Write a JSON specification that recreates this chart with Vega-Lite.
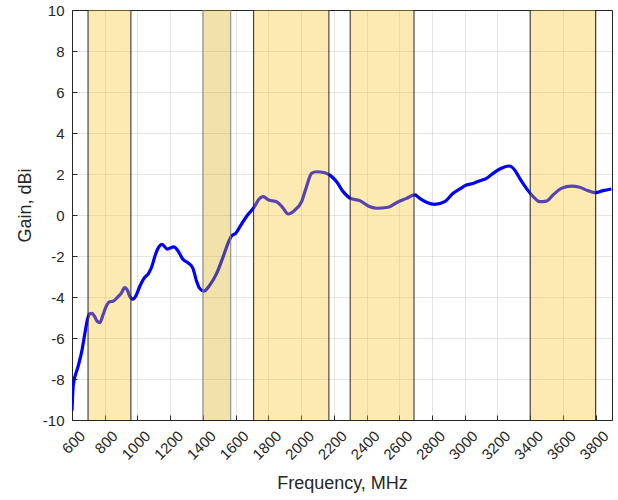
{
  "$schema": "https://vega.github.io/schema/vega-lite/v6.json",
  "width": 540,
  "height": 410,
  "autosize": "none",
  "padding": {"left": 72, "top": 10, "right": 6, "bottom": 80},
  "background": "white",
  "config": {
    "view": {"stroke": "#262626", "strokeWidth": 1},
    "font": "Liberation Sans",
    "axis": {
      "labelFont": "Liberation Sans",
      "titleFont": "Liberation Sans",
      "labelColor": "#262626",
      "titleColor": "#262626",
      "domainColor": "#262626",
      "tickColor": "#262626",
      "gridColor": "#000000",
      "gridOpacity": 0.1,
      "labelFontSize": 15,
      "titleFontSize": 18,
      "titleFontWeight": "normal",
      "labelOverlap": false,
      "labelFlush": false,
      "tickSize": -5,
      "grid": true
    },
    "axisX": {"labelOverlap": false, "labelAngle": -45, "labelAlign": "right", "labelBaseline": "middle", "labelBound": false, "labelPadding": 18, "labelOffset": 10, "titlePadding": 12},
    "axisY": {"labelPadding": 13, "titlePadding": 8, "titleY": 195}
  },
  "datasets": {
    "gain": [
      {"f": 600, "g": -9.55}, {"f": 608, "g": -8.29}, {"f": 637, "g": -7.4}, {"f": 661, "g": -6.6},
      {"f": 677, "g": -5.85}, {"f": 694, "g": -5.12}, {"f": 706, "g": -4.83}, {"f": 722, "g": -4.8},
      {"f": 739, "g": -4.96}, {"f": 755, "g": -5.2}, {"f": 771, "g": -5.25}, {"f": 789, "g": -4.88},
      {"f": 810, "g": -4.44}, {"f": 830, "g": -4.23}, {"f": 850, "g": -4.21}, {"f": 877, "g": -4.02},
      {"f": 901, "g": -3.82}, {"f": 922, "g": -3.54}, {"f": 938, "g": -3.66}, {"f": 952, "g": -3.95},
      {"f": 972, "g": -4.1}, {"f": 993, "g": -3.9}, {"f": 1013, "g": -3.5}, {"f": 1040, "g": -3.09},
      {"f": 1068, "g": -2.85}, {"f": 1089, "g": -2.49}, {"f": 1109, "g": -1.95}, {"f": 1129, "g": -1.58},
      {"f": 1150, "g": -1.43}, {"f": 1182, "g": -1.66}, {"f": 1223, "g": -1.55}, {"f": 1247, "g": -1.74},
      {"f": 1278, "g": -2.16}, {"f": 1313, "g": -2.36}, {"f": 1339, "g": -2.6}, {"f": 1359, "g": -3.17},
      {"f": 1380, "g": -3.58}, {"f": 1405, "g": -3.71}, {"f": 1443, "g": -3.41}, {"f": 1484, "g": -2.85},
      {"f": 1524, "g": -2.03}, {"f": 1555, "g": -1.35}, {"f": 1575, "g": -1.02}, {"f": 1600, "g": -0.9},
      {"f": 1632, "g": -0.49}, {"f": 1673, "g": 0.0}, {"f": 1713, "g": 0.38}, {"f": 1742, "g": 0.77},
      {"f": 1768, "g": 0.9}, {"f": 1803, "g": 0.73}, {"f": 1850, "g": 0.65}, {"f": 1884, "g": 0.4},
      {"f": 1921, "g": 0.05}, {"f": 1962, "g": 0.24}, {"f": 2003, "g": 0.65}, {"f": 2033, "g": 1.38},
      {"f": 2064, "g": 2.03}, {"f": 2094, "g": 2.11}, {"f": 2145, "g": 2.06}, {"f": 2180, "g": 1.92},
      {"f": 2216, "g": 1.63}, {"f": 2257, "g": 1.14}, {"f": 2302, "g": 0.81}, {"f": 2359, "g": 0.7},
      {"f": 2410, "g": 0.44}, {"f": 2461, "g": 0.33}, {"f": 2532, "g": 0.38}, {"f": 2583, "g": 0.6},
      {"f": 2644, "g": 0.81}, {"f": 2695, "g": 0.98}, {"f": 2725, "g": 0.81}, {"f": 2766, "g": 0.62},
      {"f": 2817, "g": 0.52}, {"f": 2878, "g": 0.65}, {"f": 2929, "g": 1.06}, {"f": 2975, "g": 1.3},
      {"f": 3010, "g": 1.46}, {"f": 3051, "g": 1.54}, {"f": 3092, "g": 1.67}, {"f": 3133, "g": 1.79},
      {"f": 3173, "g": 2.03}, {"f": 3224, "g": 2.28}, {"f": 3271, "g": 2.39}, {"f": 3305, "g": 2.2},
      {"f": 3336, "g": 1.79}, {"f": 3377, "g": 1.3}, {"f": 3418, "g": 0.9}, {"f": 3458, "g": 0.65},
      {"f": 3499, "g": 0.68}, {"f": 3540, "g": 0.98}, {"f": 3591, "g": 1.3}, {"f": 3652, "g": 1.41},
      {"f": 3702, "g": 1.35}, {"f": 3753, "g": 1.19}, {"f": 3800, "g": 1.09}, {"f": 3845, "g": 1.19},
      {"f": 3896, "g": 1.27}
    ],
    "bands": [
      {"start": 698, "end": 960, "kind": "main"},
      {"start": 1400, "end": 1570, "kind": "other"},
      {"start": 1710, "end": 2170, "kind": "main"},
      {"start": 2300, "end": 2690, "kind": "main"},
      {"start": 3400, "end": 3800, "kind": "main"}
    ]
  },
  "layer": [
    {
      "data": {"name": "gain"},
      "mark": {"type": "line", "color": "#0000ff", "strokeWidth": 3.2, "interpolate": "monotone", "clip": true},
      "encoding": {
        "x": {
          "field": "f", "type": "quantitative",
          "scale": {"domain": [600, 3900], "nice": false, "zero": false},
          "axis": {"title": "Frequency, MHz", "values": [600, 800, 1000, 1200, 1400, 1600, 1800, 2000, 2200, 2400, 2600, 2800, 3000, 3200, 3400, 3600, 3800], "format": "d", "labelOverlap": false}
        },
        "y": {
          "field": "g", "type": "quantitative",
          "scale": {"domain": [-10, 10], "nice": false, "zero": false},
          "axis": {"title": "Gain, dBi", "values": [-10, -8, -6, -4, -2, 0, 2, 4, 6, 8, 10], "labelOverlap": false, "labelExpr": "'' + datum.value"}
        }
      }
    },
    {
      "data": {"name": "bands"},
      "mark": {"type": "rect", "opacity": 0.35, "strokeOpacity": 1},
      "encoding": {
        "x": {"field": "start", "type": "quantitative", "scale": {"domain": [600, 3900], "nice": false, "zero": false},
          "axis": {"title": "Frequency, MHz", "values": [600, 800, 1000, 1200, 1400, 1600, 1800, 2000, 2200, 2400, 2600, 2800, 3000, 3200, 3400, 3600, 3800], "format": "d", "labelOverlap": false}},
        "x2": {"field": "end"},
        "y": {"datum": -10, "type": "quantitative", "scale": {"domain": [-10, 10], "nice": false, "zero": false},
          "axis": {"title": "Gain, dBi", "values": [-10, -8, -6, -4, -2, 0, 2, 4, 6, 8, 10], "labelOverlap": false, "labelExpr": "'' + datum.value"}},
        "y2": {"datum": 10},
        "color": {"field": "kind", "type": "nominal", "scale": {"domain": ["main", "other"], "range": ["#F9C023", "#D7AC0F"]}, "legend": null}
      }
    },
    {
      "data": {"name": "bands"},
      "mark": {"type": "rule", "strokeWidth": 1},
      "encoding": {
        "x": {"field": "start", "type": "quantitative", "scale": {"domain": [600, 3900], "nice": false, "zero": false},
          "axis": {"title": "Frequency, MHz", "values": [600, 800, 1000, 1200, 1400, 1600, 1800, 2000, 2200, 2400, 2600, 2800, 3000, 3200, 3400, 3600, 3800], "format": "d", "labelOverlap": false}},
        "color": {"field": "kind", "type": "nominal", "scale": {"domain": ["main", "other"], "range": ["#262626", "#808080"]}, "legend": null}
      }
    },
    {
      "data": {"name": "bands"},
      "mark": {"type": "rule", "strokeWidth": 1},
      "encoding": {
        "x": {"field": "end", "type": "quantitative", "scale": {"domain": [600, 3900], "nice": false, "zero": false},
          "axis": {"title": "Frequency, MHz", "values": [600, 800, 1000, 1200, 1400, 1600, 1800, 2000, 2200, 2400, 2600, 2800, 3000, 3200, 3400, 3600, 3800], "format": "d", "labelOverlap": false}},
        "color": {"field": "kind", "type": "nominal", "scale": {"domain": ["main", "other"], "range": ["#262626", "#808080"]}, "legend": null}
      }
    }
  ],
  "resolve": {"scale": {"color": "independent"}}
}
